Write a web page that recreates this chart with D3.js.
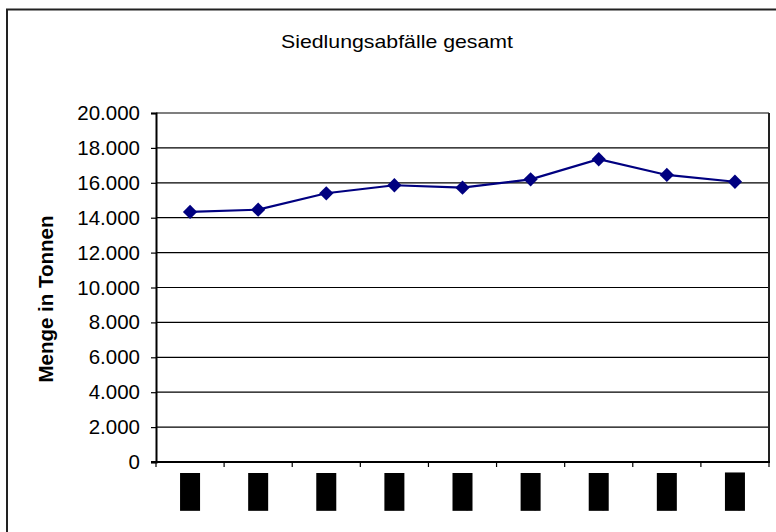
<!DOCTYPE html>
<html>
<head>
<meta charset="utf-8">
<script src="https://cdn.jsdelivr.net/npm/d3@7"></script>
<style>
  html, body { margin: 0; padding: 0; background: #fff; }
  svg { display: block; font-family: "Liberation Sans", Arial, sans-serif; }
</style>
</head>
<body>
<svg id="chart" width="776" height="532"></svg>
<script>
// Municipal waste totals per year (tonnes)
const years = ["1996", "1997", "1998", "1999", "2000", "2001", "2002", "2003", "2004"];
const tonnes = [14330, 14460, 15400, 15860, 15720, 16200, 17350, 16450, 16060];
const yTicks = [0, 2000, 4000, 6000, 8000, 10000, 12000, 14000, 16000, 18000, 20000];

const title = "Siedlungsabfälle gesamt";
const yTitle = "Menge in Tonnen";

const svg = d3.select("#chart");
const plot = { left: 156, right: 769, top: 113, bottom: 462 };

// outer chart frame (runs past the right and bottom edge)
svg.append("rect")
  .attr("x", 7).attr("y", 9.5)
  .attr("width", 820).attr("height", 600)
  .attr("fill", "#fff")
  .attr("stroke", "#222").attr("stroke-width", 2);

svg.append("text")
  .attr("x", 397).attr("y", 48)
  .attr("text-anchor", "middle")
  .attr("font-size", 19)
  .attr("textLength", 232)
  .attr("lengthAdjust", "spacingAndGlyphs")
  .text(title);

const x = d3.scaleBand().domain(years).range([plot.left, plot.right]);
const y = d3.scaleLinear().domain([0, 20000]).range([plot.bottom, plot.top]);

// horizontal gridlines
svg.append("g")
  .selectAll("line")
  .data(yTicks.filter(d => d > 0))
  .join("line")
  .attr("x1", plot.left).attr("x2", plot.right)
  .attr("y1", d => y(d)).attr("y2", d => y(d))
  .attr("stroke", "#000").attr("stroke-width", 1.2);

// plot area border (right side)
svg.append("line")
  .attr("x1", plot.right).attr("x2", plot.right)
  .attr("y1", plot.top).attr("y2", plot.bottom)
  .attr("stroke", "#222").attr("stroke-width", 2);

const fmt = d3.format(",");
const deFmt = d => fmt(d).replace(/,/g, ".");

// y axis
const yAxis = svg.append("g")
  .attr("transform", `translate(${plot.left},0)`)
  .call(d3.axisLeft(y).tickValues(yTicks).tickFormat(deFmt).tickSize(5).tickPadding(11));
yAxis.select(".domain").attr("stroke", "#000").attr("stroke-width", 2);
yAxis.selectAll(".tick line").attr("stroke", "#000").attr("stroke-width", 1.2);
yAxis.selectAll(".tick text")
  .attr("font-size", 20.5).attr("fill", "#000")
  .attr("font-family", "Liberation Sans, Arial, sans-serif");

// x axis: ticks at category boundaries
const xAxisG = svg.append("g");
xAxisG.append("line")
  .attr("x1", plot.left - 5).attr("x2", plot.right + 1)
  .attr("y1", plot.bottom).attr("y2", plot.bottom)
  .attr("stroke", "#000").attr("stroke-width", 2);
const bounds = years.map(d => x(d)).concat([plot.right]);
xAxisG.selectAll("line.tick")
  .data(bounds)
  .join("line")
  .attr("class", "tick")
  .attr("x1", d => d).attr("x2", d => d)
  .attr("y1", plot.bottom).attr("y2", plot.bottom + 5)
  .attr("stroke", "#000").attr("stroke-width", 1.2);

// category labels, rotated and set in solid blocks
const labels = svg.append("g").selectAll("g")
  .data(years)
  .join("g")
  .attr("transform", d => `translate(${x(d) + x.bandwidth() / 2},473) rotate(-90)`);
labels.append("text")
  .attr("text-anchor", "end")
  .attr("dominant-baseline", "central")
  .attr("font-size", 17)
  .attr("font-weight", "bold")
  .attr("fill", "#000")
  .text(d => d);
labels.each(function () {
  const b = d3.select(this).select("text").node().getBBox();
  d3.select(this).insert("rect", "text")
    .attr("x", b.x).attr("y", -10)
    .attr("width", b.width).attr("height", 20)
    .attr("fill", "#000");
});

// y axis title
svg.append("text")
  .attr("transform", "translate(53,299) rotate(-90)")
  .attr("text-anchor", "middle")
  .attr("font-size", 20.5)
  .attr("font-weight", "bold")
  .text(yTitle);

// series line
const cx = d => x(d) + x.bandwidth() / 2;
svg.append("path")
  .datum(years.map((d, i) => [cx(d), y(tonnes[i])]))
  .attr("fill", "none")
  .attr("stroke", "#000080")
  .attr("stroke-width", 2.2)
  .attr("d", d3.line());

// diamond markers
svg.append("g")
  .selectAll("path")
  .data(years.map((d, i) => ({ year: d, v: tonnes[i] })))
  .join("path")
  .attr("transform", d => `translate(${cx(d.year)},${y(d.v)})`)
  .attr("d", d3.symbol(d3.symbolDiamond2, 130))
  .attr("fill", "#000080");
</script>
</body>
</html>
